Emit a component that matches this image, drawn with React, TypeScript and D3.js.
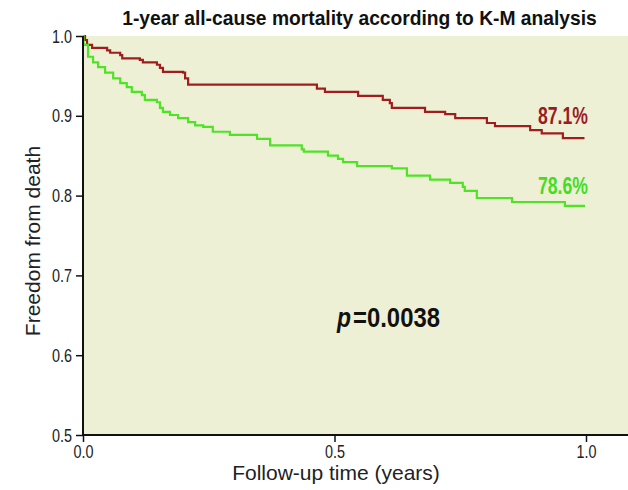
import React, { useEffect, useRef } from "react";
import * as d3 from "d3";

// K-M curves (time in years, survival)
const redTimes = [0, 0.004, 0.008, 0.018, 0.048, 0.054, 0.074, 0.078, 0.113, 0.119, 0.147, 0.153, 0.159, 0.199, 0.203, 0.209, 0.465, 0.481, 0.547, 0.596, 0.61, 0.614, 0.68, 0.72, 0.74, 0.803, 0.819, 0.889, 0.912, 0.954, 0.997];
const redSurv = [1.0, 0.995, 0.989, 0.985, 0.982, 0.979, 0.976, 0.972, 0.97, 0.967, 0.964, 0.96, 0.955, 0.954, 0.947, 0.939, 0.934, 0.93, 0.925, 0.92, 0.916, 0.91, 0.905, 0.902, 0.897, 0.891, 0.887, 0.882, 0.878, 0.872, 0.872];

const greenTimes = [0, 0.001, 0.01, 0.02, 0.03, 0.044, 0.06, 0.074, 0.087, 0.097, 0.117, 0.123, 0.147, 0.153, 0.159, 0.173, 0.189, 0.209, 0.223, 0.239, 0.258, 0.292, 0.346, 0.372, 0.435, 0.439, 0.487, 0.507, 0.517, 0.545, 0.614, 0.644, 0.69, 0.73, 0.755, 0.759, 0.783, 0.853, 0.958, 0.998];
const greenSurv = [1.0, 0.989, 0.974, 0.967, 0.961, 0.954, 0.947, 0.941, 0.936, 0.93, 0.926, 0.92, 0.917, 0.91, 0.905, 0.901, 0.897, 0.892, 0.888, 0.886, 0.88, 0.876, 0.871, 0.863, 0.858, 0.855, 0.85, 0.846, 0.842, 0.837, 0.834, 0.825, 0.82, 0.816, 0.811, 0.806, 0.797, 0.792, 0.787, 0.787];

const yTicks = [0.5, 0.6, 0.7, 0.8, 0.9, 1.0];
const xTicks = [0, 0.5, 1.0];

// no narrow font installed, so the condensed look is made by squeezing
const sans = "'Liberation Sans', Arial, sans-serif";

const KMChart = () => {
  const svgRef = useRef(null);

  const config = {
    width: 628,
    height: 490,
    margin: { top: 36, right: 0, bottom: 55, left: 83 },
  };

  useEffect(() => {
    const svg = d3.select(svgRef.current);
    svg.selectAll("*").remove();

    const m = config.margin;
    const x = d3.scaleLinear().domain([0, 1]).range([m.left, 586]);
    const y = d3.scaleLinear().domain([0.5, 1]).range([config.height - m.bottom, m.top]);

    // title, squeezed horizontally to the reference width
    const title = svg
      .append("text")
      .attr("text-anchor", "middle")
      .attr("font-family", sans)
      .attr("font-weight", "bold")
      .attr("font-size", 21)
      .attr("fill", "#111")
      .text("1-year all-cause mortality according to K-M analysis");
    const natural = (title.node() as SVGTextElement).getComputedTextLength() || 560;
    title.attr("transform", `translate(359.5,25) scale(${475 / natural},1)`);

    // plot background
    svg
      .append("rect")
      .attr("x", m.left)
      .attr("y", m.top)
      .attr("width", config.width - m.left)
      .attr("height", y(0.5) - m.top)
      .attr("fill", "#eef0d6");

    const line = d3
      .line<[number, number]>()
      .x((d) => x(d[0]))
      .y((d) => y(d[1]))
      .curve(d3.curveStepAfter);

    const curves = [
      { times: redTimes, surv: redSurv, color: "#a11d1d" },
      { times: greenTimes, surv: greenSurv, color: "#4ee425" },
    ];

    curves.forEach((c) => {
      const pts: [number, number][] = c.times.map((t, i) => [t, c.surv[i]]);
      svg
        .append("path")
        .attr("d", line(pts))
        .attr("fill", "none")
        .attr("stroke", c.color)
        .attr("stroke-width", 2.2);
    });

    // y axis
    const yAxis = svg
      .append("g")
      .attr("transform", `translate(${m.left},0)`)
      .call(d3.axisLeft(y).tickValues(yTicks).tickFormat(d3.format(".1f")).tickSize(7).tickPadding(4));
    yAxis.select(".domain").attr("stroke", "#111").attr("stroke-width", 2).attr("d", `M0,${y(0.5)}V${m.top}`);
    yAxis.selectAll(".tick line").attr("stroke", "#111").attr("stroke-width", 1.5);
    yAxis
      .selectAll(".tick text")
      .attr("font-family", sans)
      .attr("font-size", 19)
      .attr("fill", "#222")
      .attr("textLength", 20)
      .attr("lengthAdjust", "spacingAndGlyphs");

    // x axis
    const xAxis = svg
      .append("g")
      .attr("transform", `translate(0,${y(0.5)})`)
      .call(d3.axisBottom(x).tickValues(xTicks).tickFormat(d3.format(".1f")).tickSize(7).tickPadding(3));
    xAxis.select(".domain").attr("stroke", "#111").attr("stroke-width", 2).attr("d", `M${m.left},0H${config.width}`);
    xAxis.selectAll(".tick line").attr("stroke", "#111").attr("stroke-width", 1.5);
    xAxis
      .selectAll(".tick text")
      .attr("font-family", sans)
      .attr("font-size", 19)
      .attr("fill", "#222")
      .attr("textLength", 20)
      .attr("lengthAdjust", "spacingAndGlyphs");

    // axis titles
    svg
      .append("text")
      .attr("transform", `translate(40,241) rotate(-90)`)
      .attr("text-anchor", "middle")
      .attr("font-family", sans)
      .attr("font-size", 21)
      .attr("fill", "#222")
      .text("Freedom from death");

    svg
      .append("text")
      .attr("x", 336)
      .attr("y", 480)
      .attr("text-anchor", "middle")
      .attr("font-family", sans)
      .attr("font-size", 21)
      .attr("fill", "#222")
      .text("Follow-up time (years)");

    // end labels
    const endLabels = [
      { text: "87.1%", y: 124, color: "#9b1b1f" },
      { text: "78.6%", y: 194, color: "#44dd22" },
    ];
    endLabels.forEach((l) => {
      svg
        .append("text")
        .attr("x", 538)
        .attr("y", l.y)
        .attr("font-family", sans)
        .attr("font-weight", "bold")
        .attr("font-size", 23)
        .attr("fill", l.color)
        .attr("textLength", 50)
        .attr("lengthAdjust", "spacingAndGlyphs")
        .text(l.text);
    });

    // p value, italic p then the number
    svg
      .append("text")
      .attr("x", 337)
      .attr("y", 327)
      .attr("font-family", sans)
      .attr("font-weight", "bold")
      .attr("font-style", "italic")
      .attr("font-size", 28)
      .attr("fill", "#111")
      .attr("textLength", 14)
      .attr("lengthAdjust", "spacingAndGlyphs")
      .text("p");
    svg
      .append("text")
      .attr("x", 353)
      .attr("y", 327)
      .attr("font-family", sans)
      .attr("font-weight", "bold")
      .attr("font-size", 28)
      .attr("fill", "#111")
      .attr("textLength", 87)
      .attr("lengthAdjust", "spacingAndGlyphs")
      .text("=0.0038");
  }, []);

  return (
    <svg
      ref={svgRef}
      width={config.width}
      height={config.height}
      style={{ position: "absolute", left: 0, top: 0, display: "block" }}
    ></svg>
  );
};

export default function App() {
  return <KMChart />;
}
